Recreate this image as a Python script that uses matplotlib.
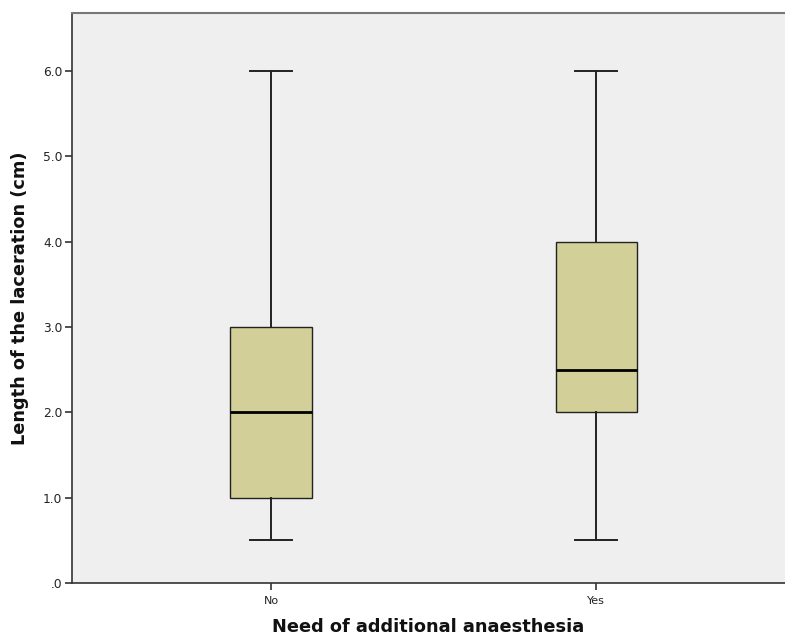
import matplotlib
matplotlib.use("Agg")
import matplotlib.pyplot as plt
from matplotlib.ticker import FuncFormatter

# summary values per group (cm)
groups = ["No", "Yes"]
whislo = [0.5, 0.5]
q1 = [1.0, 2.0]
med = [2.0, 2.5]
q3 = [3.0, 4.0]
whishi = [6.0, 6.0]

stats = []
for i, g in enumerate(groups):
    stats.append(dict(label=g, whislo=whislo[i], q1=q1[i], med=med[i],
                      q3=q3[i], whishi=whishi[i], fliers=[]))

fig = plt.figure(figsize=(7.85, 6.4), dpi=100)
ax = fig.add_axes([72 / 785, 57 / 640, 713 / 785, 570 / 640])
ax.set_facecolor("#efefef")

ax.bxp(stats, positions=[0, 1], widths=0.25, patch_artist=True,
       showfliers=False,
       boxprops=dict(facecolor="#d3cf98", edgecolor="#222222", linewidth=1.0),
       medianprops=dict(color="black", linewidth=2.0),
       whiskerprops=dict(color="#222222", linewidth=1.4),
       capprops=dict(color="#222222", linewidth=1.4),
       capwidths=0.13)

ax.set_xlim(-0.612, 1.58)
ax.set_ylim(0, 6.68)
ax.set_yticks([0, 1, 2, 3, 4, 5, 6])
ax.yaxis.set_major_formatter(FuncFormatter(lambda v, p: ".0" if v == 0 else "%.1f" % v))
ax.set_xticks([0, 1])
ax.set_xticklabels(groups)

ax.spines["right"].set_visible(False)
for s in ["left", "bottom"]:
    ax.spines[s].set_color("#333333")
    ax.spines[s].set_linewidth(1.2)
ax.spines["top"].set_color("#777777")
ax.spines["top"].set_linewidth(1.5)

ax.tick_params(axis="y", labelsize=8.8, labelcolor="#222222", color="#333333",
               length=5, width=1.2, pad=2)
ax.tick_params(axis="x", labelsize=8, labelcolor="#222222", color="#333333",
               length=5, width=1.2, pad=4)

ax.set_ylabel("Length of the laceration (cm)", fontsize=12.8, fontweight="bold",
              color="#111111", labelpad=10)
ax.set_xlabel("Need of additional anaesthesia", fontsize=12.8, fontweight="bold",
              color="#111111", labelpad=9)

fig.savefig("out.png", dpi=100)
